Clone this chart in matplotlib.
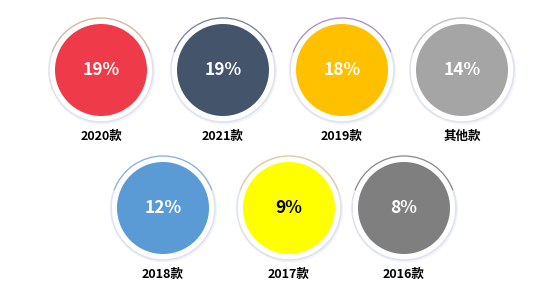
import matplotlib
matplotlib.use('Agg')
import matplotlib.pyplot as plt
from matplotlib.patches import Circle, Arc

# Data.
labels = ['2020款', '2021款', '2019款', '其他款', '2018款', '2017款', '2016款']
shares = [19, 19, 18, 14, 12, 9, 8]
fills = ['#EF3B49', '#44546A', '#FFC000', '#A5A5A5', '#5B9BD5', '#FFFF00', '#7F7F7F']
text_colors = ['white', 'white', 'white', 'white', 'white', 'black', 'white']
arc_colors = ['#D9A070', '#44546A', '#8E6AC0', '#B0B0B0', '#5B9BD5', '#E8C070', '#606060']

plt.rcParams['font.family'] = ['Noto Sans CJK SC', 'DejaVu Sans']

W, H = 559, 293
fig = plt.figure(figsize=(W / 100, H / 100), dpi=100)
ax = fig.add_axes([0, 0, 1, 1])
ax.set_xlim(0, W)
ax.set_ylim(H, 0)
ax.axis('off')

# layout: 4 circles on the top row, 3 on the bottom row
row_y = [70, 208]
row_x = [[101, 223, 342, 462], [163, 289, 404]]
label_dy = 66
r_in, r_out = 46, 52

centres = [(x, row_y[0]) for x in row_x[0]] + [(x, row_y[1]) for x in row_x[1]]

for i, (cx, cy) in enumerate(centres):
    # soft shadow + outer ring
    ax.add_patch(Circle((cx + 1, cy + 1.5), r_out + 1, facecolor='#F3F4F8',
                        edgecolor='none', zorder=1))
    ax.add_patch(Circle((cx, cy), r_out, facecolor='white',
                        edgecolor='#DEE1F0', linewidth=1.1, zorder=2))
    ax.add_patch(Arc((cx, cy), 2 * r_out, 2 * r_out, theta1=200, theta2=340,
                     color=arc_colors[i], linewidth=0.8, alpha=0.7, zorder=3))
    ax.add_patch(Circle((cx, cy), r_in, facecolor=fills[i],
                        edgecolor='none', zorder=4))
    ax.text(cx, cy, '%d%%' % shares[i], ha='center', va='center',
            fontsize=12.5, fontweight='bold', color=text_colors[i], zorder=5)
    ax.text(cx, cy + label_dy, labels[i], ha='center', va='center',
            fontsize=9, fontweight='bold', color='black', zorder=5)

fig.savefig('out.png', dpi=100, facecolor='white')
